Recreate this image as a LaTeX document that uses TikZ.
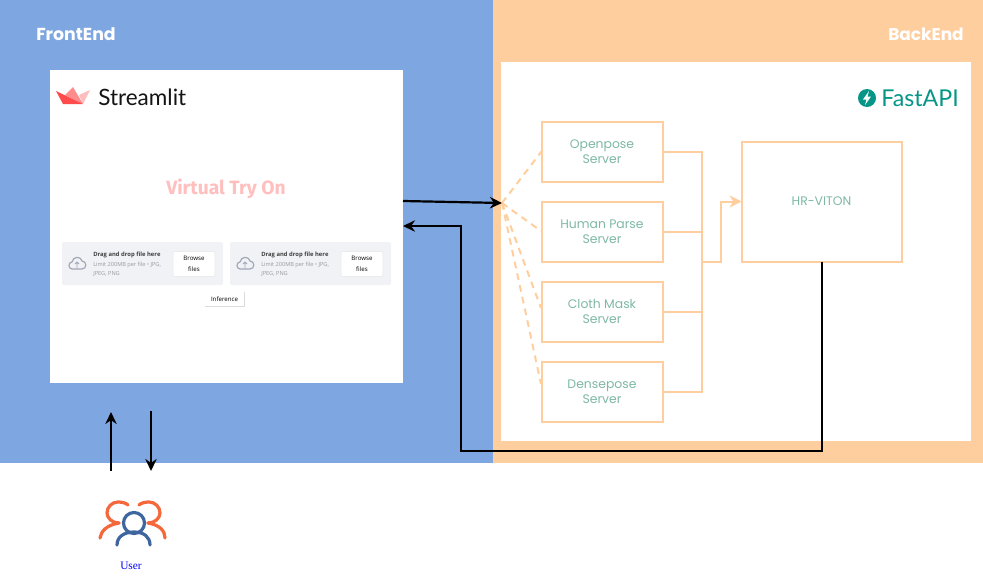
\documentclass[tikz,border=0pt]{standalone}
\usepackage{fontspec}
\setmainfont{Open Sans}
\newfontfamily\popf{Poppins}
\newfontfamily\latof{Lato}
\newfontfamily\serf{Liberation Serif}
\newfontfamily\firaf{Fira Sans}
\usetikzlibrary{arrows.meta}
\definecolor{feblue}{HTML}{7EA6E0}
\definecolor{beorange}{HTML}{FFCE9F}
\definecolor{srvtext}{HTML}{7FB8A6}
\definecolor{upbg}{HTML}{F0F2F6}
\definecolor{teal}{HTML}{059687}
\definecolor{usrorange}{HTML}{F4683C}
\definecolor{usrblue}{HTML}{3F659F}
\definecolor{crowna}{HTML}{FF4B4B}
\definecolor{crownb}{HTML}{FF8C8C}
\definecolor{crownc}{HTML}{FFBDBD}
\definecolor{cloudc}{HTML}{A3A8B8}
\tikzset{
  x=0.75pt,y=-0.75pt,
  srv/.style={draw=beorange,line width=1.5pt,fill=white,align=center,anchor=north west,inner sep=0pt,outer sep=0pt,text=srvtext,font=\popf\fontsize{9.3}{11.3}\selectfont},
  link/.style={draw=beorange,line width=1.5pt},
  flow/.style={draw=black,line width=1.65pt,-{Stealth[length=9pt,width=8.5pt]}},
  dashlink/.style={draw=beorange,line width=1.5pt,dash pattern=on 5pt off 4pt},
  uparea/.style={fill=upbg,rounded corners=1.5pt},
  btn/.style={draw=black!8,line width=0.4pt,fill=white,rounded corners=1pt,align=center,inner sep=0pt,font=\fontsize{4.6}{8.6}\selectfont},
  upt/.style={anchor=west,inner sep=0pt,font=\fontsize{4.4}{6}\selectfont\bfseries,text=black!75},
  ups/.style={anchor=north west,inner sep=0pt,align=left,font=\fontsize{4.2}{7}\selectfont,text=black!40},
  usr/.style={line width=2.4pt,line cap=round}
}
\begin{document}
\begin{tikzpicture}
\useasboundingbox (0,0) rectangle (983,582);
\fill[white] (0,0) rectangle (983,582);
\fill[feblue] (0,0) rectangle (493,463);
\fill[beorange] (493,0) rectangle (983,463);
\fill[white] (501,62) rectangle (971,441);
\node[anchor=north west,fill=white,minimum width=264.75pt,minimum height=234.75pt,inner sep=0pt,outer sep=0pt] (st) at (50,70) {};
\node[text=white,font=\popf\bfseries\fontsize{13}{15}\selectfont,inner sep=0pt] (fe) at (76,34) {FrontEnd};
\node[text=white,font=\popf\bfseries\fontsize{12.7}{15}\selectfont,inner sep=0pt] (be) at (926,34) {BackEnd};
% Streamlit logo
\fill[crownc] (79,95) -- (90,90) -- (83,104) -- cycle;
\fill[crownb] (65,95) -- (73,87) -- (83,104) -- cycle;
\fill[crowna] (56,91) -- (63,104) -- (83,104) -- cycle;
\node[anchor=west,inner sep=0pt,text=black!92,font=\latof\fontsize{16.9}{18}\selectfont] (stl) at (98,97) {Streamlit};
\node[text=pink,font=\firaf\bfseries\fontsize{14.4}{16}\selectfont,inner sep=0pt] (vto) at (226,189) {Virtual Try On};
% uploaders
\foreach \dx/\nm in {0/a,168/b}{
  \fill[uparea] (62+\dx,242) rectangle (223+\dx,285);
  \draw[draw=cloudc,line width=0.9pt,line join=round]
    (72+\dx,269) .. controls (68+\dx,269) and (68+\dx,262) .. (72+\dx,262)
    .. controls (73+\dx,256) and (81+\dx,256) .. (82+\dx,261)
    .. controls (87+\dx,261) and (87+\dx,269) .. (82+\dx,269) -- cycle;
  \draw[draw=cloudc,line width=0.7pt] (77+\dx,268) -- (77+\dx,262) (75+\dx,264) -- (77+\dx,262) -- (79+\dx,264);
  \node[upt] (t\nm) at (93+\dx,255) {Drag and drop file here};
  \node[ups] (s\nm) at (93+\dx,262) {Limit 200MB per file • JPG,\\JPEG, PNG};
  \node[btn,minimum width=31.5pt,minimum height=18.75pt] (b\nm) at (194+\dx,264) {Browse\\files};
}
\node[inner sep=0pt,font=\fontsize{4.6}{6}\selectfont,minimum width=29pt,minimum height=10.5pt] (inf) at (224.5,299) {Inference};
\draw[black!14,line width=0.4pt] (inf.north east) -- (inf.south east) -- (inf.south west);
% FastAPI logo
\fill[teal] (867,98) circle[radius=9];
\fill[white] (869,91) -- (863,99.5) -- (866.5,99.5) -- (865,105) -- (871,96.5) -- (867.5,96.5) -- cycle;
\node[anchor=west,inner sep=0pt,text=teal,font=\latof\fontsize{17.4}{19}\selectfont] (fa) at (881,98) {FastAPI};
% servers
\node[srv,minimum width=90.75pt,minimum height=45pt] (op) at (541.5,121.5) {Openpose\\Server};
\node[srv,minimum width=90.75pt,minimum height=45pt] (hp) at (541.5,201.5) {Human Parse\\Server};
\node[srv,minimum width=90.75pt,minimum height=45pt] (cm) at (541.5,281.5) {Cloth Mask\\Server};
\node[srv,minimum width=90.75pt,minimum height=45pt] (dp) at (541.5,361.5) {Densepose\\Server};
\node[srv,minimum width=120pt,minimum height=90pt] (hr) at (741.5,141.5) {HR-VITON};
% junctions
\coordinate (hub) at (502,203);
\coordinate (trunk) at (702,261.5);
\coordinate (stout) at (403,201);
\coordinate (stin) at (403,226);
\draw[link] (op.east) -- ++(39.5,0) |- (dp.east);
\draw[link] (hp.east) -- ++(39.5,0);
\draw[link] (cm.east) -- ++(39.5,0);
\draw[link,-{Stealth[length=9pt,width=9pt]}] (trunk) -- ++(19,0) |- (hr.west);
\draw[dashlink] (hub) -- (op.west);
\draw[dashlink] (hub) -- (541,231);
\draw[dashlink] (hub) -- (541,308);
\draw[dashlink] (hub) -- (541,384);
% flows
\draw[flow] (stout) -- (hub);
\draw[flow] (hr.south -| 822,262) -- (822,451) -- (461,451) -- (461,226) -- (stin);
% user
\coordinate (u1) at (111,471);\coordinate (u1e) at (111,412);
\coordinate (u2) at (151,411);\coordinate (u2e) at (151,471);
\draw[flow] (u1) -- (u1e);
\draw[flow] (u2) -- (u2e);
\draw[usr,usrorange] (119,523) .. controls (112,523) and (107,518) .. (107,513) .. controls (107,507) and (112,502) .. (118,502) .. controls (122,502) and (126,503) .. (128,505);
\draw[usr,usrorange] (119,523) .. controls (107,525) and (101,531) .. (100,538);
\draw[usr,usrorange] (148,523) .. controls (155,523) and (160,518) .. (160,513) .. controls (160,507) and (155,502) .. (149,502) .. controls (145,502) and (141,503) .. (139,505);
\draw[usr,usrorange] (148,523) .. controls (160,525) and (165,531) .. (165,538);
\draw[usr,usrblue] (134,523) circle[radius=10.5];
\draw[usr,usrblue] (117,545) .. controls (117,537) and (124,532) .. (134,532) .. controls (144,532) and (150,537) .. (150,545);
\node[text=blue,font=\serf\fontsize{8.5}{10}\selectfont,inner sep=0pt] (ul) at (131,566) {User};
\end{tikzpicture}
\end{document}
